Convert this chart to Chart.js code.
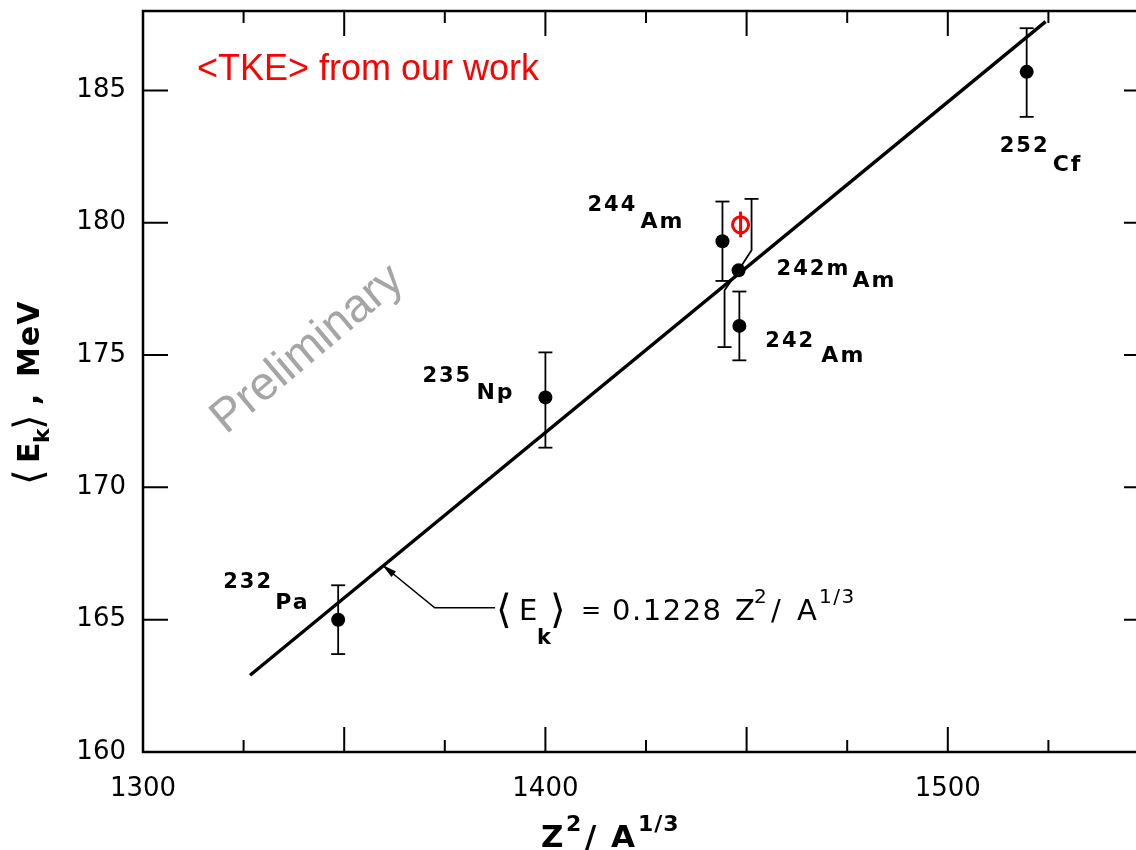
<!DOCTYPE html>
<html>
<head>
<meta charset="utf-8">
<script src="https://cdn.jsdelivr.net/npm/chart.js@4.4.1/dist/chart.umd.min.js"></script>
<style>
  html, body { margin: 0; padding: 0; background: #fff; overflow: hidden; }
  #wrap { width: 1136px; height: 850px; overflow: hidden; }
</style>
</head>
<body>
<div id="wrap"><canvas id="tke-chart" width="1160" height="850"></canvas></div>
<script>
const massNumbers = ["232", "235", "244", "242m", "242", "252"];
const elements = ["Pa", "Np", "Am", "Am", "Am", "Cf"];
const zSquaredOverA = [1348.5, 1400.0, 1444.0, 1448.0, 1448.2, 1519.6];
const meanEk = [165.0, 173.4, 179.3, 178.2, 176.1, 185.7];
const ekLow = [163.7, 171.5, 177.8, 175.3, 174.8, 184.0];
const ekHigh = [166.3, 175.1, 180.8, 180.9, 177.4, 187.35];

// systematics line <Ek> = 0.1228 Z^2/A^1/3 (end points as drawn)
const fitX = [1326.6, 1524.3];
const fitY = [162.9, 187.6];

// leader from the line to the formula
const leaderX = [1360.0, 1372.5, 1387.5];
const leaderY = [167.0, 165.45, 165.45];

// <TKE> from our work (red)
const tkeX = [1448.5];
const tkeY = [179.92];
const tkeLow = [179.45];
const tkeHigh = [180.42];

const xTickLabels = [1300, 1400, 1500];
const yTickLabels = [160, 165, 170, 175, 180, 185];

// label placement, pixels from the point: [mass dx, mass dy, element dx, element dy]
const labelOffsets = [
    [-115, -32, -63, -11],
    [-123, -15, -69, 2],
    [-135, -30, -82, -13],
    [38, 5, 114, 17],
    [26, 21, 82, 36],
    [-27, 80, 26, 99]
];
// the 242mAm bar is drawn with kinks to dodge its neighbours
const barShift = [[0, 0], [0, 0], [0, 0], [-14, 13], [0, 0], [0, 0]];

function drawTicks(chart) {
    const ctx = chart.ctx;
    const area = chart.chartArea;
    const xs = chart.scales.x;
    const ys = chart.scales.y;
    ctx.save();
    ctx.strokeStyle = "#000";
    ctx.lineWidth = 2;
    for (let v = 1325; v < 1550; v += 25) {
        const px = xs.getPixelForValue(v);
        const len = v % 50 === 0 ? 25 : 12;
        ctx.beginPath();
        ctx.moveTo(px, area.bottom); ctx.lineTo(px, area.bottom - len);
        ctx.moveTo(px, area.top); ctx.lineTo(px, area.top + len);
        ctx.stroke();
    }
    for (let v = 165; v <= 185; v += 5) {
        const py = ys.getPixelForValue(v);
        ctx.beginPath();
        ctx.moveTo(area.left, py); ctx.lineTo(area.left + 25, py);
        ctx.moveTo(area.right, py); ctx.lineTo(area.right - 25, py);
        ctx.stroke();
    }
    ctx.lineWidth = 2.5;
    ctx.strokeRect(area.left, area.top, area.right - area.left, area.bottom - area.top);
    ctx.restore();
}

function drawBar(ctx, px, py, shift, endY, cap) {
    const dir = Math.sign(endY - py);
    ctx.beginPath();
    ctx.moveTo(px, py);
    if (shift !== 0) ctx.lineTo(px + shift, py + dir * 20);
    ctx.lineTo(px + shift, endY);
    ctx.stroke();
    ctx.beginPath();
    ctx.moveTo(px + shift - cap, endY);
    ctx.lineTo(px + shift + cap, endY);
    ctx.stroke();
}

// pieces: [text, font, x offset, y offset]
function drawPieces(ctx, x, y, pieces) {
    for (const [text, font, dx, dy] of pieces) {
        ctx.font = font;
        ctx.fillText(text, x + dx, y + dy);
    }
}

const decorations = {
    id: "decorations",
    afterDatasetsDraw(chart) {
        const ctx = chart.ctx;
        const xs = chart.scales.x;
        const ys = chart.scales.y;
        ctx.save();

        // error bars
        ctx.strokeStyle = "#000";
        ctx.lineWidth = 1.8;
        for (let i = 0; i < meanEk.length; i++) {
            const px = xs.getPixelForValue(zSquaredOverA[i]);
            const py = ys.getPixelForValue(meanEk[i]);
            drawBar(ctx, px, py, barShift[i][0], ys.getPixelForValue(ekLow[i]), 7);
            drawBar(ctx, px, py, barShift[i][1], ys.getPixelForValue(ekHigh[i]), 7);
        }

        // red point with its bar
        ctx.strokeStyle = "#ff0000";
        ctx.lineWidth = 3;
        for (let i = 0; i < tkeX.length; i++) {
            const px = xs.getPixelForValue(tkeX[i]);
            ctx.beginPath();
            ctx.moveTo(px, ys.getPixelForValue(tkeLow[i]));
            ctx.lineTo(px, ys.getPixelForValue(tkeHigh[i]));
            ctx.stroke();
        }

        // arrow head on the leader
        const ax = xs.getPixelForValue(leaderX[0]);
        const ay = ys.getPixelForValue(leaderY[0]);
        const bx = xs.getPixelForValue(leaderX[1]);
        const by = ys.getPixelForValue(leaderY[1]);
        const ang = Math.atan2(ay - by, ax - bx);
        ctx.fillStyle = "#000";
        ctx.beginPath();
        ctx.moveTo(ax + 3 * Math.cos(ang), ay + 3 * Math.sin(ang));
        ctx.lineTo(ax - 12 * Math.cos(ang) + 3.5 * Math.sin(ang), ay - 12 * Math.sin(ang) - 3.5 * Math.cos(ang));
        ctx.lineTo(ax - 12 * Math.cos(ang) - 3.5 * Math.sin(ang), ay - 12 * Math.sin(ang) + 3.5 * Math.cos(ang));
        ctx.closePath();
        ctx.fill();

        // nuclide labels
        ctx.fillStyle = "#000";
        ctx.textBaseline = "alphabetic";
        ctx.textAlign = "left";
        ctx.letterSpacing = "2px";
        for (let i = 0; i < massNumbers.length; i++) {
            const px = xs.getPixelForValue(zSquaredOverA[i]);
            const py = ys.getPixelForValue(meanEk[i]);
            const o = labelOffsets[i];
            ctx.font = "bold 21px 'DejaVu Sans'";
            ctx.fillText(massNumbers[i], px + o[0], py + o[1]);
            ctx.font = "bold 22px 'DejaVu Sans'";
            ctx.fillText(elements[i], px + o[2], py + o[3]);
        }

        // formula next to the leader
        const fx = xs.getPixelForValue(leaderX[2]);
        const fy = ys.getPixelForValue(leaderY[2]) + 12;
        const f = "29px 'DejaVu Sans'";
        const fs = "20px 'DejaVu Sans'";
        const fb = "40px 'DejaVu Sans'";
        ctx.letterSpacing = "1.5px";
        drawPieces(ctx, fx, fy, [
            ["\u27E8", fb, 1, 3], ["E", f, 24, 0], ["k", "bold 21px 'DejaVu Sans'", 42, 24],
            ["\u27E9", fb, 55, 3], ["=", "24px 'DejaVu Sans'", 86, -2], ["0.1228", f, 117, 0],
            ["Z", f, 240, 0], ["2", fs, 259, -17], ["/", f, 276, 0], ["A", f, 302, 0], ["1/3", fs, 324, -17]
        ]);
        ctx.letterSpacing = "0px";

        ctx.restore();
    },
    afterDraw(chart) {
        const ctx = chart.ctx;
        drawTicks(chart);
        ctx.save();
        ctx.fillStyle = "#000";
        ctx.textBaseline = "alphabetic";
        ctx.textAlign = "left";

        // x title
        ctx.letterSpacing = "1px";
        drawPieces(ctx, 541, 847, [
            ["Z", "bold 31px 'DejaVu Sans'", 0, 0], ["2", "bold 22px 'DejaVu Sans'", 25, -16],
            ["/", "bold 31px 'DejaVu Sans'", 44, 0], ["A", "bold 31px 'DejaVu Sans'", 70, 0],
            ["1/3", "bold 22px 'DejaVu Sans'", 97, -16]
        ]);

        // y title, rotated
        ctx.save();
        ctx.translate(39, 485);
        ctx.rotate(-Math.PI / 2);
        drawPieces(ctx, 0, 0, [
            ["\u27E8", "40px 'DejaVu Sans'", 0, 3], ["E", "bold 30px 'DejaVu Sans'", 22, 0],
            ["k", "bold 22px 'DejaVu Sans'", 42, 10], ["\u27E9", "40px 'DejaVu Sans'", 55, 3],
            [",", "bold 30px 'DejaVu Sans'", 80, 0], ["MeV", "bold 30px 'DejaVu Sans'", 108, 0]
        ]);
        ctx.restore();
        ctx.letterSpacing = "0px";

        // red note
        ctx.fillStyle = "#ff0000";
        ctx.font = "36px 'Liberation Sans'";
        ctx.fillText("<TKE> from our work", 197, 80);

        // watermark
        ctx.save();
        ctx.translate(226, 435);
        ctx.rotate(-40 * Math.PI / 180);
        ctx.fillStyle = "rgba(160,160,160,0.95)";
        ctx.font = "47px 'Liberation Sans'";
        ctx.fillText("Preliminary", 0, 0);
        ctx.restore();

        ctx.restore();
    }
};

const ctx = document.getElementById("tke-chart").getContext("2d");

new Chart(ctx, {
    type: "scatter",
    data: {
        datasets: [
            {
                label: "systematics",
                data: fitX.map((x, i) => ({ x: x, y: fitY[i] })),
                showLine: true,
                borderColor: "#000",
                borderWidth: 3.4,
                pointRadius: 0
            },
            {
                label: "leader",
                data: leaderX.map((x, i) => ({ x: x, y: leaderY[i] })),
                showLine: true,
                borderColor: "#000",
                borderWidth: 1.6,
                pointRadius: 0
            },
            {
                label: "data",
                data: zSquaredOverA.map((x, i) => ({ x: x, y: meanEk[i] })),
                backgroundColor: "#000",
                borderColor: "#000",
                pointRadius: 7,
                borderWidth: 0
            },
            {
                label: "our TKE",
                data: tkeX.map((x, i) => ({ x: x, y: tkeY[i] })),
                backgroundColor: "rgba(0,0,0,0)",
                borderColor: "#ff0000",
                borderWidth: 3,
                pointRadius: 8
            }
        ]
    },
    options: {
        responsive: false,
        animation: false,
        events: [],
        layout: { padding: { top: 11, right: 10, left: 0, bottom: 0 } },
        plugins: { legend: { display: false }, tooltip: { enabled: false } },
        scales: {
            x: {
                type: "linear",
                min: 1300,
                max: 1550,
                grid: { display: false, drawTicks: false },
                border: { display: false },
                afterBuildTicks: s => { s.ticks = xTickLabels.map(v => ({ value: v })); },
                afterFit: s => { s.height = 98; s.paddingLeft = 0; s.paddingRight = 0; },
                ticks: {
                    font: { family: "DejaVu Sans", size: 26 }, color: "#000", padding: 22,
                    maxRotation: 0, autoSkip: false, callback: v => String(v)
                }
            },
            y: {
                type: "linear",
                min: 160,
                max: 188,
                grid: { display: false, drawTicks: false },
                border: { display: false },
                afterBuildTicks: s => { s.ticks = yTickLabels.map(v => ({ value: v })); },
                afterFit: s => { s.width = 143; s.paddingTop = 0; s.paddingBottom = 0; },
                ticks: { font: { family: "DejaVu Sans", size: 26 }, color: "#000", padding: 17, callback: v => String(v) }
            }
        }
    },
    plugins: [decorations]
});
</script>
</body>
</html>
